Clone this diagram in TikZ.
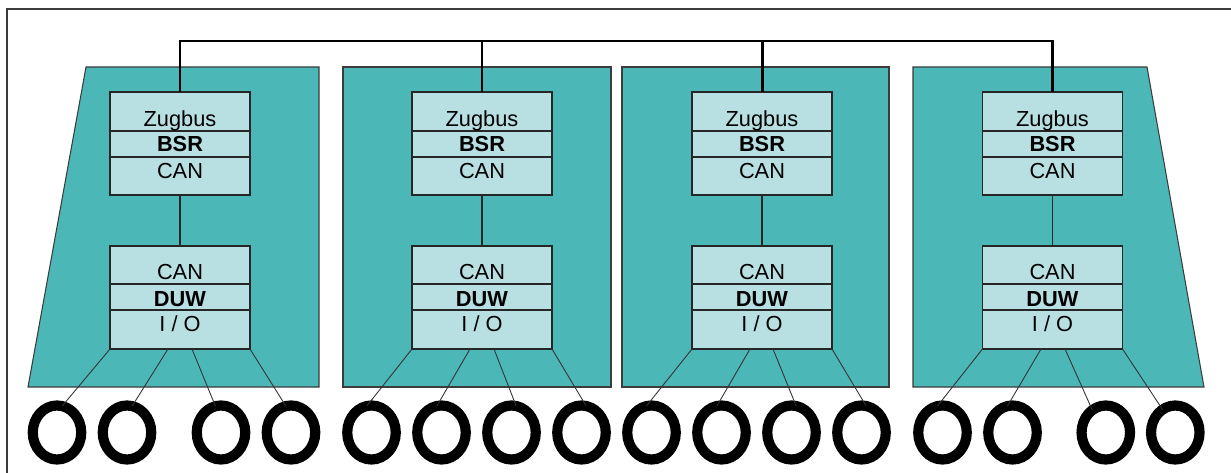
\documentclass[tikz,border=0pt]{standalone}
\usepackage{fontspec}
\setmainfont{Liberation Sans}
\usepackage{xcolor}
\usetikzlibrary{shapes.geometric}
\definecolor{wagon}{RGB}{75,183,183}
\definecolor{unitbg}{RGB}{184,224,227}
\definecolor{edgegray}{RGB}{60,60,60}
\tikzset{
  unit/.style={
    rectangle, draw=black!85, line width=0.7pt, fill=unitbg,
    minimum width=2.8cm, minimum height=2.06cm, inner sep=0pt, outer sep=0pt
  },
  wheel/.style={
    ellipse, draw=black, line width=5.8pt, fill=white,
    minimum width=0.97cm, minimum height=1.08cm, inner sep=0pt, outer sep=0pt
  },
  car/.style={draw=edgegray, line width=0.6pt, fill=wagon},
  lbl/.style={anchor=base, inner sep=0pt, font=\fontsize{12.4}{14}\selectfont},
}

\begin{document}
\begin{tikzpicture}[x=0.02cm, y=-0.02cm,
  sep/.style={draw=black!85, line width=0.7pt},
  bus/.style={draw=black, line width=1.7pt},
  link/.style={draw=black!85, line width=0.6pt},
  axle/.style={draw=black!80, line width=0.5pt}
]
  \useasboundingbox (0,0) rectangle (1231,473);

  %% ── frame ──
  \draw[edgegray, line width=0.7pt] (7,473) -- (7,9) -- (1231,9);

  %% ── car bodies ──
  \draw[car] (28,387) -- (86,67) -- (319,67) -- (319,387) -- cycle;
  \draw[car] (343,67) rectangle (611,387);
  \draw[car] (622,67) rectangle (889,387);
  \draw[car] (913,67) -- (1147,67) -- (1204,387) -- (913,387) -- cycle;

  %% ── BSR / DUW units ──
  \node[unit] (bsr1) at (180,143.5)    {};
  \node[unit] (duw1) at (180,297.5)    {};
  \node[unit] (bsr2) at (482,143.5)    {};
  \node[unit] (duw2) at (482,297.5)    {};
  \node[unit] (bsr3) at (762,143.5)    {};
  \node[unit] (duw3) at (762,297.5)    {};
  \node[unit] (bsr4) at (1052.5,143.5) {};
  \node[unit] (duw4) at (1052.5,297.5) {};

  %% ── row separators ──
  \draw[sep] (bsr1.west |- 0,131) -- (bsr1.east |- 0,131);
  \draw[sep] (bsr1.west |- 0,157) -- (bsr1.east |- 0,157);
  \draw[sep] (duw1.west |- 0,284) -- (duw1.east |- 0,284);
  \draw[sep] (duw1.west |- 0,310) -- (duw1.east |- 0,310);
  \draw[sep] (bsr2.west |- 0,131) -- (bsr2.east |- 0,131);
  \draw[sep] (bsr2.west |- 0,157) -- (bsr2.east |- 0,157);
  \draw[sep] (duw2.west |- 0,284) -- (duw2.east |- 0,284);
  \draw[sep] (duw2.west |- 0,310) -- (duw2.east |- 0,310);
  \draw[sep] (bsr3.west |- 0,131) -- (bsr3.east |- 0,131);
  \draw[sep] (bsr3.west |- 0,157) -- (bsr3.east |- 0,157);
  \draw[sep] (duw3.west |- 0,284) -- (duw3.east |- 0,284);
  \draw[sep] (duw3.west |- 0,310) -- (duw3.east |- 0,310);
  \draw[sep] (bsr4.west |- 0,131) -- (bsr4.east |- 0,131);
  \draw[sep] (bsr4.west |- 0,157) -- (bsr4.east |- 0,157);
  \draw[sep] (duw4.west |- 0,284) -- (duw4.east |- 0,284);
  \draw[sep] (duw4.west |- 0,310) -- (duw4.east |- 0,310);

  %% ── row labels ──
  \node[lbl] (zb1)  at (180,127) {Zugbus};
  \node[lbl] (bs1)  at (180,152) {\bfseries BSR};
  \node[lbl] (ca1)  at (180,178) {CAN};
  \node[lbl] (cb1)  at (180,279) {CAN};
  \node[lbl] (dw1)  at (180,306) {\bfseries DUW};
  \node[lbl] (io1)  at (180,331) {I / O};
  \node[lbl] (zb2)  at (482,127) {Zugbus};
  \node[lbl] (bs2)  at (482,152) {\bfseries BSR};
  \node[lbl] (ca2)  at (482,178) {CAN};
  \node[lbl] (cb2)  at (482,279) {CAN};
  \node[lbl] (dw2)  at (482,306) {\bfseries DUW};
  \node[lbl] (io2)  at (482,331) {I / O};
  \node[lbl] (zb3)  at (762,127) {Zugbus};
  \node[lbl] (bs3)  at (762,152) {\bfseries BSR};
  \node[lbl] (ca3)  at (762,178) {CAN};
  \node[lbl] (cb3)  at (762,279) {CAN};
  \node[lbl] (dw3)  at (762,306) {\bfseries DUW};
  \node[lbl] (io3)  at (762,331) {I / O};
  \node[lbl] (zb4)  at (1052.5,127) {Zugbus};
  \node[lbl] (bs4)  at (1052.5,152) {\bfseries BSR};
  \node[lbl] (ca4)  at (1052.5,178) {CAN};
  \node[lbl] (cb4)  at (1052.5,279) {CAN};
  \node[lbl] (dw4)  at (1052.5,306) {\bfseries DUW};
  \node[lbl] (io4)  at (1052.5,331) {I / O};

  %% ── train bus ──
  \coordinate (busline) at (0,41);
  \draw[bus] (bsr1.north) -- (bsr1.north |- busline)
    -- (bsr4.north |- busline) -- (bsr4.north);
  \draw[bus] (bsr2.north) -- (bsr2.north |- busline);
  \draw[bus] (bsr3.north) -- (bsr3.north |- busline);

  %% ── BSR to DUW inside each car ──
  \draw[link] (bsr1) -- (duw1);
  \draw[link] (bsr2) -- (duw2);
  \draw[link] (bsr3) -- (duw3);
  \draw[link] (bsr4) -- (duw4);

  %% ── wheels ──
  \node[wheel] (w11) at (57,432.5)     {};
  \node[wheel] (w12) at (127,432.5)    {};
  \node[wheel] (w13) at (221,432.5)    {};
  \node[wheel] (w14) at (291,432.5)    {};
  \node[wheel] (w21) at (371.5,432.5)  {};
  \node[wheel] (w22) at (441.5,432.5)  {};
  \node[wheel] (w23) at (511.5,432.5)  {};
  \node[wheel] (w24) at (581.5,432.5)  {};
  \node[wheel] (w31) at (651.5,432.5)  {};
  \node[wheel] (w32) at (721.5,432.5)  {};
  \node[wheel] (w33) at (791.5,432.5)  {};
  \node[wheel] (w34) at (861.5,432.5)  {};
  \node[wheel] (w41) at (942.5,432.5)  {};
  \node[wheel] (w42) at (1012.5,432.5) {};
  \node[wheel] (w43) at (1105.8,432.5) {};
  \node[wheel] (w44) at (1175.3,432.5) {};

  %% ── I/O lines down to the wheels ──
  \draw[axle] (duw1.south west)            -- (w11.79);
  \draw[axle] ([xshift=-0.24cm]duw1.south) -- (w12.79);
  \draw[axle] ([xshift=0.24cm]duw1.south)  -- (w13.102);
  \draw[axle] (duw1.south east)            -- (w14.101);
  \draw[axle] (duw2.south west)            -- (w21.100);
  \draw[axle] ([xshift=-0.24cm]duw2.south) -- (w22.100);
  \draw[axle] ([xshift=0.24cm]duw2.south)  -- (w23.80);
  \draw[axle] (duw2.south east)            -- (w24.80);
  \draw[axle] (duw3.south west)            -- (w31.101);
  \draw[axle] ([xshift=-0.24cm]duw3.south) -- (w32.100);
  \draw[axle] ([xshift=0.22cm]duw3.south)  -- (w33.80);
  \draw[axle] (duw3.south east)            -- (w34.80);
  \draw[axle] (duw4.south west)            -- (w41.101);
  \draw[axle] ([xshift=-0.23cm]duw4.south) -- (w42.101);
  \draw[axle] ([xshift=0.25cm]duw4.south)  -- (w43.121);
  \draw[axle] (duw4.south east)            -- (w44.119);
\end{tikzpicture}
\end{document}
